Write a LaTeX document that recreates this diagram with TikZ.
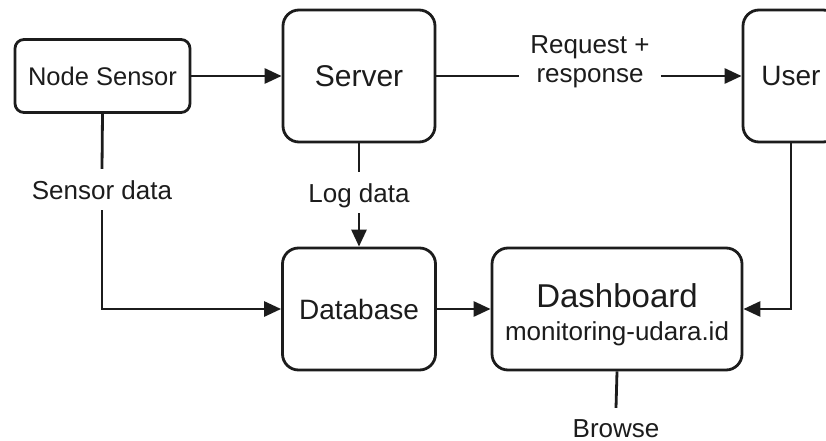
\documentclass[tikz,border=0pt]{standalone}
\usepackage{fontspec}
\setmainfont{Liberation Sans}
\usetikzlibrary{arrows.meta}
\definecolor{ink}{RGB}{28,28,28}
\begin{document}
\begin{tikzpicture}[x=1pt,y=-1pt,
  box/.style={draw=ink, line width=2.8pt, rounded corners=16pt, inner sep=0pt, text=ink},
  lbl/.style={text=ink, inner xsep=0pt, inner ysep=11pt, text depth=0pt, font=\fontsize{26}{28}\selectfont},
  conn/.style={draw=ink, line width=2.8pt},
  arr/.style={conn, -{Triangle[length=17pt,width=15pt]}}]
\useasboundingbox (0,0) rectangle (826,441);
\clip (0,0) rectangle (826,441);
\fill[white] (0,0) rectangle (826,441);
% boxes
\node[box, rounded corners=9pt, minimum width=175pt, minimum height=73pt, font=\fontsize{25.5}{28}\selectfont] (ns) at (102.5,76) {Node Sensor};
\node[box, minimum width=152pt, minimum height=132pt, font=\fontsize{30}{34}\selectfont] (srv) at (359,76) {Server};
\node[box, minimum width=96pt, minimum height=132pt, font=\fontsize{28}{32}\selectfont] (usr) at (791,76) {User};
\node[box, minimum width=153pt, minimum height=122pt, font=\fontsize{28}{32}\selectfont] (db) at (359,309) {Database};
\node[box, minimum width=250pt, minimum height=122pt, align=center] (dash) at (617,309)
  {{\fontsize{33}{36}\selectfont\rule{0pt}{36pt}Dashboard}\\[13pt]{\fontsize{26}{30}\selectfont monitoring-udara.id}};
% labels
\node[text=ink, inner xsep=11pt, inner ysep=0pt, align=center, font=\fontsize{26}{29}\selectfont] (rq) at (590,62) {Request +\\response};
\node[lbl, anchor=base] (sd) at (102,199) {Sensor data};
\node[lbl, anchor=base] (ld) at (359,202) {Log data};
\node[lbl, anchor=base] (br) at (616,437) {Browse};
% connectors
\draw[arr] (ns.east) -- (srv.west);
\draw[conn] (srv.east) -- (srv.east -| rq.west);
\draw[arr] (srv.east -| rq.east) -- (usr.west);
\draw[conn] (ns.south) -- (sd.north);
\draw[arr] (sd.south) |- (db.west);
\draw[conn] (srv.south) -- (ld.north);
\draw[arr] (ld.south) -- (db.north);
\draw[arr] (db.east) -- (dash.west);
\draw[arr] (usr.south) |- (dash.east);
\draw[conn] (dash.south) -- (br.north);
\end{tikzpicture}
\end{document}
